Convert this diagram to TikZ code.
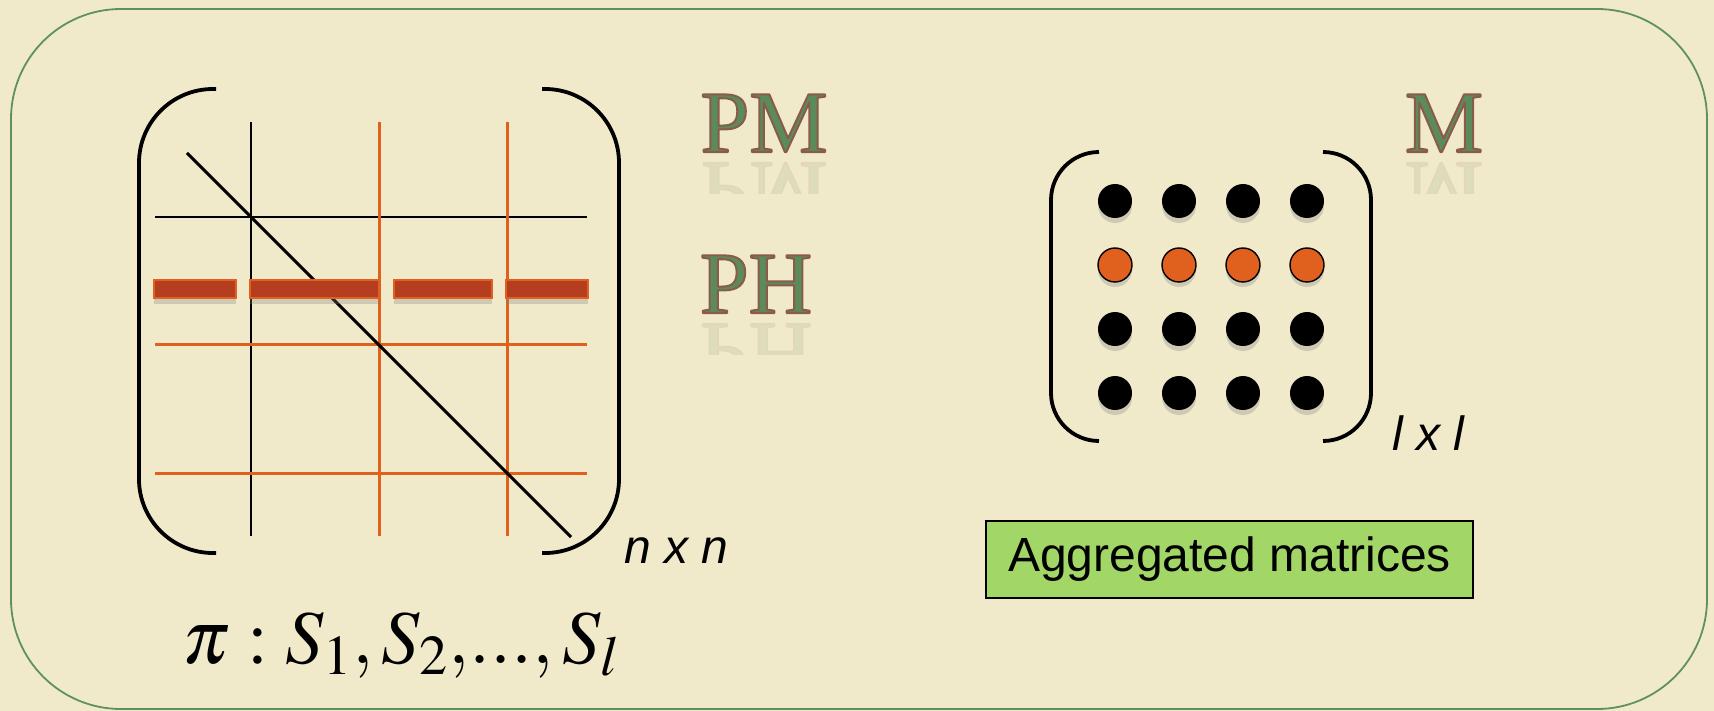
\documentclass[tikz,border=0pt]{standalone}
\usepackage{amsmath}
\usepackage{mathptmx}
\usepackage{fontspec}
\setmainfont{Liberation Serif}
\newfontfamily\helv{Liberation Sans}
\newfontfamily\capfont{Liberation Serif}
\usetikzlibrary{positioning, shadows, calc}
\definecolor{parchment}{HTML}{F1EACA}
\definecolor{framegreen}{HTML}{5E9160}
\definecolor{gridorange}{HTML}{E0601E}
\definecolor{barred}{HTML}{B43E1F}
\definecolor{capgreen}{HTML}{5B8B5B}
\definecolor{capedge}{HTML}{8A5A4B}
\definecolor{boxgreen}{HTML}{A2D767}
% green letters with a brown stroked edge (text render mode 2)
\newcommand{\capword}[1]{{\capfont\color{capgreen}%
  \special{pdf:code q 2 Tr 1.0 w 1 j 0.541 0.353 0.294 RG}#1\special{pdf:code Q}}}

\begin{document}
\begin{tikzpicture}[
    x=0.5pt, y=-0.5pt,
    frame/.style={draw=framegreen, line width=0.9pt, rounded corners=55pt},
    paren/.style={line width=1.9pt},
    gridblack/.style={line width=0.85pt},
    gridline/.style={gridorange, line width=1.5pt},
    diagline/.style={line width=1.5pt},
    rowbar/.style={fill=barred, draw=gridorange, line width=0.8pt,
      drop shadow={opacity=0.3, shadow xshift=0pt, shadow yshift=-3pt}},
    dotblk/.style={circle, fill=black, minimum size=17pt, inner sep=0pt,
      drop shadow={opacity=0.3, shadow xshift=0pt, shadow yshift=-2.5pt}},
    dotorg/.style={dotblk, fill=gridorange, draw=black, line width=0.7pt},
    capnode/.style={inner sep=0pt, font=\fontsize{44}{44}\selectfont},
    mirror/.style={capnode, transform shape, yscale=-1},
    dimtext/.style={inner sep=0pt, font=\helv\itshape\fontsize{24}{24}\selectfont},
    aggbox/.style={draw=black, line width=0.6pt, fill=boxgreen, minimum width=243.5pt,
      minimum height=38.5pt, inner sep=0pt, font=\helv\fontsize{24}{24}\selectfont}
  ]
    \fill[parchment] (0,0) rectangle (1714,711);
    \useasboundingbox (0,0) rectangle (1714,711);
    \draw[frame] (11,9) rectangle (1707,709);

    % permuted matrix
    \draw[paren, rounded corners=37pt] (216,89) -- (139,89) -- (139,553) -- (216,553);
    \draw[paren, rounded corners=37pt] (542,89) -- (619,89) -- (619,553) -- (542,553);
    \draw[gridblack] (251,122) -- (251,536);
    \draw[gridblack] (155,217) -- (587,217);
    \foreach \x in {379,507}
      \draw[gridline] (\x,122) -- (\x,536);
    \foreach \y in {345,473}
      \draw[gridline] (155,\y) -- (587,\y);
    \draw[diagline] (187,153) -- (571,537);
    \foreach \a/\b in {154/236, 250/379, 394/492, 506/588}
      \draw[rowbar] (\a,280) rectangle (\b,298);

    \node[dimtext, anchor=base west] (pmsize) at (624,563) {n x n};
    \node[inner sep=0pt, anchor=base west, font=\fontsize{38}{40}\selectfont] (perm)
      at (182,663) {$\boldsymbol{\pi} : S_1{,}\,S_2{,}...{,}\,S_l$};

    % labels with reflections
    \node[capnode, anchor=base] (pm) at (764,152) {\capword{PM}};
    \node[capnode, anchor=base] (ph) at (756,313) {\capword{PH}};
    \node[capnode, anchor=base] (mm) at (1444,152) {\capword{M}};
    \begin{scope}[transparency group, opacity=0.13]
      \clip (680,162) rectangle (860,194) (680,323) rectangle (860,355)
        (1390,162) rectangle (1500,194);
      \node[mirror, anchor=base] (pm-mirror) at (764,163) {\capword{PM}};
      \node[mirror, anchor=base] (ph-mirror) at (756,324) {\capword{PH}};
      \node[mirror, anchor=base] (mm-mirror) at (1444,163) {\capword{M}};
    \end{scope}

    % aggregated matrix
    \draw[paren, rounded corners=24pt] (1099,152) -- (1051,152) -- (1051,441) -- (1099,441);
    \draw[paren, rounded corners=24pt] (1323,152) -- (1371,152) -- (1371,441) -- (1323,441);
    \foreach \r/\y/\s in {1/201/dotblk, 2/265/dotorg, 3/329/dotblk, 4/393/dotblk}
      \foreach \c/\x in {1/1115, 2/1179, 3/1243, 4/1307}
        \node[\s] (d\r\c) at (\x,\y) {};
    \node[dimtext, anchor=base west] (msize) at (1392,450) {l x l};

    \node[aggbox] (agg) at (1229.5,559.5) {Aggregated matrices};
  \end{tikzpicture}
\end{document}
